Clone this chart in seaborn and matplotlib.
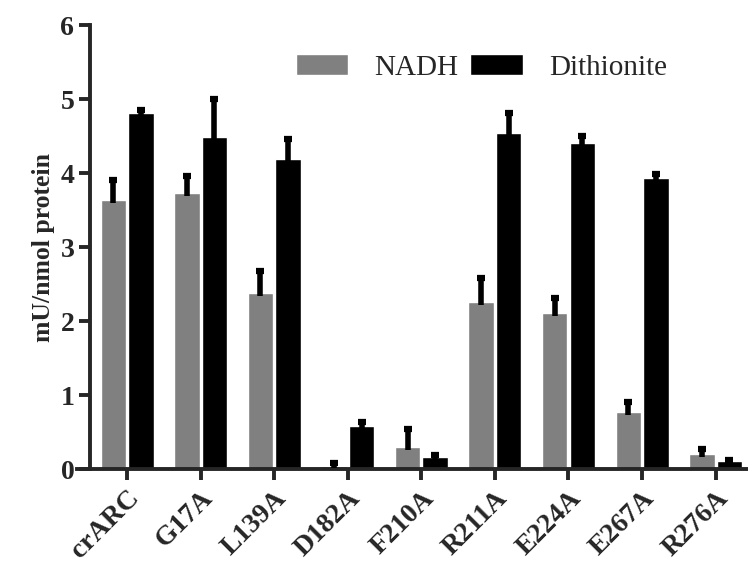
import pandas as pd
import matplotlib
matplotlib.use('Agg')
import matplotlib.pyplot as plt
import seaborn as sns

mutants = ['crARC', 'G17A', 'L139A', 'D182A', 'F210A', 'R211A', 'E224A', 'E267A', 'R276A']
nadh = [3.64, 3.73, 2.38, 0.05, 0.30, 2.26, 2.11, 0.77, 0.20]
nadh_err = [0.27, 0.24, 0.30, 0.03, 0.24, 0.33, 0.20, 0.14, 0.07]
dith = [4.81, 4.49, 4.19, 0.59, 0.17, 4.55, 4.41, 3.94, 0.11]
dith_err = [0.05, 0.51, 0.28, 0.05, 0.02, 0.27, 0.09, 0.05, 0.01]

df = pd.DataFrame({
    'mutant': mutants * 2,
    'value': nadh + dith,
    'reductant': ['NADH'] * len(mutants) + ['Dithionite'] * len(mutants),
})

sns.set_style('ticks')
plt.rcParams['font.family'] = ['Liberation Serif', 'DejaVu Serif']

fig = plt.figure(figsize=(7.48, 5.66), dpi=100)
ax = fig.add_axes([0.103, 0.171, 0.897, 0.784])

sns.barplot(data=df, x='mutant', y='value', hue='reductant',
            palette={'NADH': '#808080', 'Dithionite': '#000000'},
            width=0.75, gap=0.08, saturation=1, errorbar=None, ax=ax)

# upward-only error bars
for cont, errs in zip(ax.containers, [nadh_err, dith_err]):
    for bar, e in zip(cont.patches, errs):
        xc = bar.get_x() + bar.get_width() / 2
        top = bar.get_height()
        eb = ax.errorbar(xc, top - 0.04, yerr=[[0], [e + 0.04]], fmt='none',
                         ecolor='black', elinewidth=4, capsize=3.2, capthick=4.5, zorder=5)
        eb[1][0].set_visible(False)

ax.set_xlim(-0.68, 8.44)
ax.set_ylim(0, 6)
ax.set_yticks(range(7))
ax.spines['top'].set_visible(False)
ax.spines['right'].set_visible(False)
ax.spines['left'].set_position(('data', -0.5))
ax.spines['left'].set_linewidth(2.8)
ax.spines['bottom'].set_linewidth(2.8)
ax.tick_params(axis='both', width=2.8, length=8)
ax.tick_params(axis='y', labelsize=20)
ax.tick_params(axis='x', labelsize=20, pad=4)
for lab in ax.get_yticklabels() + ax.get_xticklabels():
    lab.set_fontweight('bold')
    lab.set_family('Liberation Serif')
plt.setp(ax.get_xticklabels(), rotation=45, ha='right', rotation_mode='anchor')

ax.set_xlabel('')
ax.set_ylabel('mU/nmol protein', fontsize=18.5, fontweight='bold', labelpad=4,
              family='Liberation Serif')

handles, labels = ax.get_legend_handles_labels()
ax.legend(handles, labels, ncol=2, frameon=False,
          prop={'family': 'Liberation Serif', 'size': 21},
          loc='upper left', bbox_to_anchor=(0.38, 0.925), bbox_transform=fig.transFigure,
          borderaxespad=0, handlelength=1.8, handleheight=0.75,
          handletextpad=0.9, columnspacing=0.4)

plt.savefig('out.png', dpi=100)
plt.close()
